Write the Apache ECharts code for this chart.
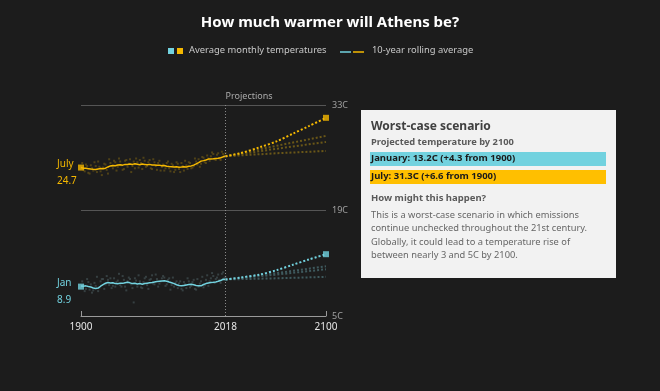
<!DOCTYPE html>
<html><head><meta charset="utf-8">
<script src="https://cdn.jsdelivr.net/npm/echarts@6/dist/echarts.min.js"></script>
<style>html,body{margin:0;padding:0;background:#1c1c1c}#c{width:660px;height:391px}</style>
</head><body><div id="c"></div>
<script>
// ---- data ----
var xTicks = [1900, 2018, 2100];
var yTicks = [5, 19, 33];
var julyRolling = [[1900,24.7],[1902,24.62],[1904,24.6],[1906,24.55],[1908,24.5],[1910,24.47],[1912,24.45],[1914,24.52],[1916,24.58],[1918,24.55],[1920,24.62],[1922,24.78],[1924,24.92],[1926,24.98],[1928,24.95],[1930,25.03],[1932,25.07],[1934,25.02],[1936,25.12],[1938,25.1],[1940,25.16],[1942,25.12],[1944,25.2],[1946,25.14],[1948,25.08],[1950,25.16],[1952,25.12],[1954,25.06],[1956,25.12],[1958,25.05],[1960,25.04],[1962,25.0],[1964,25.02],[1966,24.94],[1968,24.96],[1970,24.88],[1972,24.84],[1974,24.82],[1976,24.78],[1978,24.8],[1980,24.74],[1982,24.76],[1984,24.8],[1986,24.78],[1988,24.86],[1990,24.92],[1992,25.02],[1994,25.18],[1996,25.35],[1998,25.55],[2000,25.62],[2002,25.7],[2004,25.82],[2006,25.84],[2008,25.86],[2010,25.9],[2012,25.94],[2014,26.0],[2016,26.12],[2018,26.2]];
var janRolling = [[1900,8.98],[1902,8.95],[1904,9.0],[1906,8.92],[1908,8.85],[1910,8.72],[1912,8.66],[1914,8.7],[1916,8.95],[1918,9.15],[1920,9.35],[1922,9.45],[1924,9.38],[1926,9.42],[1928,9.3],[1930,9.28],[1932,9.36],[1934,9.33],[1936,9.42],[1938,9.47],[1940,9.4],[1942,9.3],[1944,9.35],[1946,9.25],[1948,9.32],[1950,9.22],[1952,9.3],[1954,9.36],[1956,9.42],[1958,9.46],[1960,9.52],[1962,9.58],[1964,9.62],[1966,9.66],[1968,9.68],[1970,9.6],[1972,9.5],[1974,9.42],[1976,9.3],[1978,9.15],[1980,9.05],[1982,9.0],[1984,9.06],[1986,9.12],[1988,9.18],[1990,9.22],[1992,9.15],[1994,9.06],[1996,9.02],[1998,9.0],[2000,9.18],[2002,9.3],[2004,9.38],[2006,9.45],[2008,9.48],[2010,9.52],[2012,9.6],[2014,9.7],[2016,9.88],[2018,9.85]];
var julyDotsOdd = [[1901,25.3],[1903,24.2],[1905,24.9],[1907,23.9],[1909,24.6],[1911,25.4],[1913,24.1],[1915,24.8],[1917,23.7],[1919,25.2],[1921,24.4],[1923,25.8],[1925,24.9],[1927,25.6],[1929,24.3],[1931,25.9],[1933,25.0],[1935,24.5],[1937,25.7],[1939,25.2],[1941,24.1],[1943,25.5],[1945,25.9],[1947,24.7],[1949,25.3],[1951,26.0],[1953,24.8],[1955,25.4],[1957,24.6],[1959,25.8],[1961,24.9],[1963,25.3],[1965,24.3],[1967,25.1],[1969,24.6],[1971,25.5],[1973,24.2],[1975,25.0],[1977,24.4],[1979,25.2],[1981,24.1],[1983,24.9],[1985,25.6],[1987,24.5],[1989,25.3],[1991,24.7],[1993,25.9],[1995,25.1],[1997,24.8],[1999,26.1],[2001,25.4],[2003,26.3],[2005,25.6],[2007,26.7],[2009,25.8],[2011,26.4],[2013,25.9],[2015,26.8],[2017,26.2]];
var julyDotsEven = [[1902,24.4],[1904,25.1],[1906,24.0],[1908,25.0],[1910,24.3],[1912,24.9],[1914,25.5],[1916,24.2],[1918,24.7],[1920,25.1],[1922,23.9],[1924,25.3],[1926,24.6],[1928,25.4],[1930,24.8],[1932,25.5],[1934,24.4],[1936,25.6],[1938,24.8],[1940,25.8],[1942,24.9],[1944,24.6],[1946,25.4],[1948,25.7],[1950,24.5],[1952,25.6],[1954,24.9],[1956,25.7],[1958,24.5],[1960,25.4],[1962,24.4],[1964,25.6],[1966,24.8],[1968,24.3],[1970,25.3],[1972,24.6],[1974,25.2],[1976,24.1],[1978,25.4],[1980,24.5],[1982,25.3],[1984,24.3],[1986,25.0],[1988,25.4],[1990,24.6],[1992,24.9],[1994,25.5],[1996,25.8],[1998,25.2],[2000,26.0],[2002,25.3],[2004,25.9],[2006,26.2],[2008,26.5],[2010,25.7],[2012,26.6],[2014,25.7],[2016,26.5],[2018,26.6]];
var janDotsOdd = [[1901,9.6],[1903,8.3],[1905,9.9],[1907,8.5],[1909,8.1],[1911,9.4],[1913,10.2],[1915,8.8],[1917,9.9],[1919,8.6],[1921,10.3],[1923,9.1],[1925,8.7],[1927,10.0],[1929,9.5],[1931,10.6],[1933,8.9],[1935,9.8],[1937,8.4],[1939,10.1],[1941,9.2],[1943,6.8],[1945,9.7],[1947,10.4],[1949,8.8],[1951,9.5],[1953,10.2],[1955,8.6],[1957,9.9],[1959,9.3],[1961,10.5],[1963,8.9],[1965,9.6],[1967,10.3],[1969,9.0],[1971,9.8],[1973,8.5],[1975,10.1],[1977,9.4],[1979,8.7],[1981,9.6],[1983,8.4],[1985,9.2],[1987,10.0],[1989,8.8],[1991,9.5],[1993,8.6],[1995,9.9],[1997,9.3],[1999,10.2],[2001,9.1],[2003,10.4],[2005,9.6],[2007,10.7],[2009,9.4],[2011,10.1],[2013,9.8],[2015,10.6],[2017,10.0]];
var janDotsEven = [[1902,9.1],[1904,8.6],[1906,9.5],[1908,9.2],[1910,8.4],[1912,9.0],[1914,8.3],[1916,9.6],[1918,9.9],[1920,9.2],[1922,9.8],[1924,10.0],[1926,9.0],[1928,8.9],[1930,9.7],[1932,9.1],[1934,10.3],[1936,8.9],[1938,9.6],[1940,9.9],[1942,8.7],[1944,10.0],[1946,8.9],[1948,9.6],[1950,8.7],[1952,10.0],[1954,9.1],[1956,9.8],[1958,10.4],[1960,9.2],[1962,9.9],[1964,9.3],[1966,10.0],[1968,10.1],[1970,9.2],[1972,10.0],[1974,9.1],[1976,8.9],[1978,9.6],[1980,9.3],[1982,8.6],[1984,9.5],[1986,8.7],[1988,9.6],[1990,9.0],[1992,9.8],[1994,8.5],[1996,8.9],[1998,9.6],[2000,8.8],[2002,9.8],[2004,9.0],[2006,10.0],[2008,10.3],[2010,9.9],[2012,10.5],[2014,9.4],[2016,10.8],[2018,10.2]];
var julyProj = [[2018,26.2],[2030,26.6],[2046,27.4],[2060,28.2],[2073,29.2],[2086,30.2],[2100,31.3]];
var janProj = [[2018,9.85],[2030,10.1],[2046,10.5],[2060,11.1],[2073,11.8],[2086,12.5],[2100,13.2]];
var julyAlt = [[[2018,26.2],[2060,27.6],[2100,28.9]],[[2018,26.2],[2060,27.2],[2100,28.1]],[[2018,26.2],[2060,26.6],[2100,26.9]]];
var janAlt = [[[2018,9.85],[2060,10.7],[2100,11.6]],[[2018,9.85],[2060,10.5],[2100,11.2]],[[2018,9.85],[2060,10.0],[2100,10.2]]];
var julyEnds = [[1900,24.7],[2100,31.3]];
var janEnds = [[1900,8.9],[2100,13.2]];
var julyStartLabel = ['July','24.7'];
var janStartLabel = ['Jan','8.9'];
var projectionYear = 2018;

var YEL = '#f5b800', CYA = '#72d2df';
var FONT = 'Noto Sans';
var chart = echarts.init(document.getElementById('c'));

var series = [];
series.push({type:'scatter', data: julyDotsOdd.concat(julyDotsEven), symbol:'rect', symbolSize:2, itemStyle:{color:'#5e4c16'}, silent:true, z:1});
series.push({type:'scatter', data: janDotsOdd.concat(janDotsEven), symbol:'rect', symbolSize:2, itemStyle:{color:'#3d4a4c'}, silent:true, z:1});
julyAlt.forEach(function(d){ series.push({type:'line', data:d, symbol:'none', lineStyle:{color:'#6a5718', width:2, type:[2,2]}, z:2}); });
janAlt.forEach(function(d){ series.push({type:'line', data:d, symbol:'none', lineStyle:{color:'#3f5a5e', width:2, type:[2,2]}, z:2}); });
series.push({type:'line', data: julyProj, symbol:'none', smooth:0.3, lineStyle:{color:YEL, width:2, type:[2,2]}, z:3});
series.push({type:'line', data: janProj, symbol:'none', smooth:0.3, lineStyle:{color:CYA, width:2, type:[2,2]}, z:3});
series.push({type:'line', data: julyRolling, symbol:'none', lineStyle:{color:YEL, width:1.5}, z:4,
  markLine:{silent:true, symbol:'none', lineStyle:{color:'#8a8a8a', type:[1,2], width:1},
    label:{show:true, position:'end', formatter:'Projections', color:'#aaaaaa', fontSize:9, fontFamily:FONT, distance:4, align:'left'},
    data:[{xAxis: projectionYear}]}});
series.push({type:'line', data: janRolling, symbol:'none', lineStyle:{color:CYA, width:1.5}, z:4});
series.push({type:'scatter', data: julyEnds, symbol:'rect', symbolSize:6, itemStyle:{color:YEL}, z:5});
series.push({type:'scatter', data: janEnds, symbol:'rect', symbolSize:6, itemStyle:{color:CYA}, z:5});

var option = {
  backgroundColor:'#1c1c1c',
  animation:false,
  title:{text:'How much warmer will Athens be?', left:'center', top:10,
    textStyle:{color:'#ffffff', fontSize:15, fontWeight:'bold', fontFamily:FONT}},
  grid:{left:81, right:334, top:105, bottom:75},
  xAxis:{type:'value', min:1900, max:2100, interval:200,
    axisLine:{show:true, lineStyle:{color:'#9a9a9a', width:1}},
    axisTick:{show:true, inside:true, length:5, lineStyle:{color:'#9a9a9a'}, customValues:[1900,2100]},
    axisLabel:{color:'#e6e6e6', fontSize:10, fontFamily:FONT, margin:6, customValues:xTicks,
      formatter:function(v){return String(v);}},
    splitLine:{show:false}},
  yAxis:{type:'value', position:'right', min:5, max:33, interval:14,
    axisLine:{show:false}, axisTick:{show:false},
    axisLabel:{color:'#a0a0a0', fontSize:9, fontFamily:FONT, margin:6, formatter:'{value}C'},
    splitLine:{show:true, lineStyle:{color:'#555555', width:1}}},
  series: series
};
chart.setOption(option);

function startLabel(pt, lines, color){
  var p = chart.convertToPixel({gridIndex:0}, pt);
  return [
    {type:'text', left:57, top:p[1]-8, style:{text:lines[0], fill:color, fontSize:10, fontFamily:FONT}},
    {type:'text', left:57, top:p[1]+9, style:{text:lines[1], fill:color, fontSize:10, fontFamily:FONT}}
  ];
}
var g = [];
g = g.concat(startLabel(julyEnds[0], julyStartLabel, YEL));
g = g.concat(startLabel(janEnds[0], janStartLabel, CYA));
// legend
g.push({type:'rect', shape:{x:168, y:48, width:6, height:6}, style:{fill:CYA}});
g.push({type:'rect', shape:{x:177, y:48, width:6, height:6}, style:{fill:YEL}});
g.push({type:'text', left:189, top:46, style:{text:'Average monthly temperatures', fill:'#c8c8c8', fontSize:9.4, fontFamily:FONT}});
g.push({type:'line', shape:{x1:340, y1:52, x2:351, y2:52}, style:{stroke:CYA, lineWidth:1.5}});
g.push({type:'line', shape:{x1:353, y1:52, x2:364, y2:52}, style:{stroke:YEL, lineWidth:1.5}});
g.push({type:'text', left:372, top:46, style:{text:'10-year rolling average', fill:'#c8c8c8', fontSize:9.4, fontFamily:FONT}});
// info box
g.push({type:'group', left:361, top:110, children:[
  {type:'rect', shape:{x:0, y:0, width:255, height:168}, style:{fill:'#f2f2f2'}},
  {type:'text', left:10, top:11, style:{text:'Worst-case scenario', fill:'#404040', fontSize:12, fontWeight:'bold', fontFamily:FONT}},
  {type:'text', left:10, top:28, style:{text:'Projected temperature by 2100', fill:'#5a5a5a', fontSize:9.3, fontWeight:'bold', fontFamily:FONT}},
  {type:'rect', shape:{x:9, y:42, width:236, height:14}, style:{fill:CYA}},
  {type:'text', left:10, top:43, style:{text:'January: 13.2C (+4.3 from 1900)', fill:'#1a1a1a', fontSize:9.5, fontWeight:'bold', fontFamily:FONT}},
  {type:'rect', shape:{x:9, y:60, width:236, height:14}, style:{fill:'#ffbf00'}},
  {type:'text', left:10, top:61, style:{text:'July: 31.3C (+6.6 from 1900)', fill:'#1a1a1a', fontSize:9.5, fontWeight:'bold', fontFamily:FONT}},
  {type:'text', left:10, top:83, style:{text:'How might this happen?', fill:'#5a5a5a', fontSize:9.5, fontWeight:'bold', fontFamily:FONT}},
  {type:'text', left:10, top:99, style:{text:'This is a worst-case scenario in which emissions\ncontinue unchecked throughout the 21st century.\nGlobally, it could lead to a temperature rise of\nbetween nearly 3 and 5C by 2100.', fill:'#666666', fontSize:9.3, lineHeight:13.2, fontFamily:FONT}}
]});
chart.setOption({graphic:g});
</script>
</body></html>
